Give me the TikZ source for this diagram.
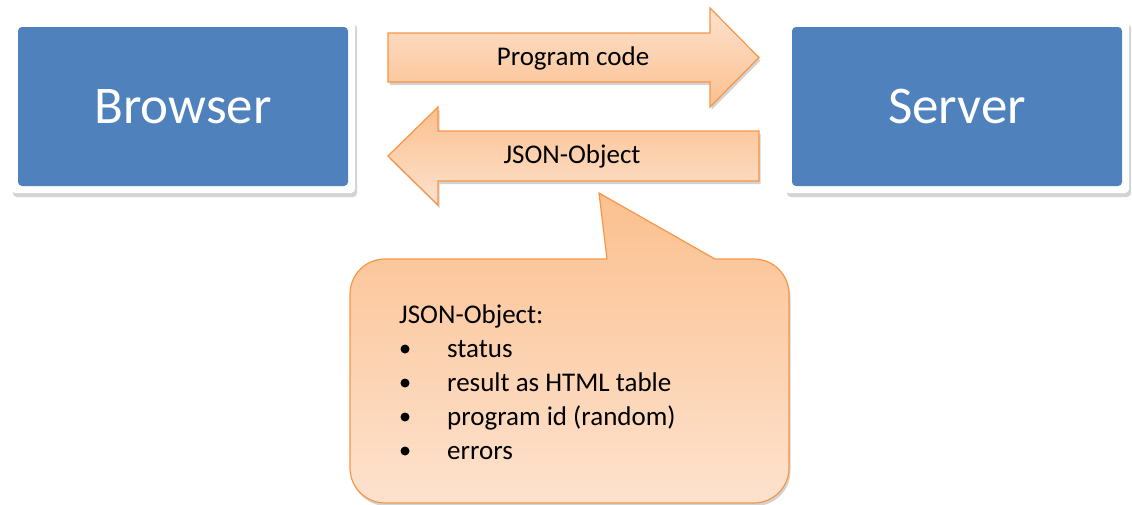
\documentclass[tikz,border=0pt]{standalone}
\usepackage{fontspec}
\setmainfont{Carlito}
\usetikzlibrary{shadows}

\definecolor{boxblue}{RGB}{79,129,189}
\definecolor{peach}{RGB}{247,150,70}
\definecolor{peachtop}{RGB}{251,192,143}
\definecolor{peachbot}{RGB}{253,226,206}

\tikzset{
  panel/.style={fill=white, rounded corners=4pt, inner sep=0pt,
    minimum width=344pt, minimum height=173pt,
    text=white, font=\fontsize{53}{56}\selectfont,
    drop shadow={shadow xshift=2pt, shadow yshift=-4pt, opacity=0.35},
    path picture={\fill[boxblue]
      ([shift={(7pt,7pt)}]path picture bounding box.south west) rectangle
      ([shift={(-7pt,-7pt)}]path picture bounding box.north east);}},
  flow/.style={draw=peach, line width=1.2pt, line join=miter,
    top color=peachtop, bottom color=peachbot,
    drop shadow={shadow xshift=1.5pt, shadow yshift=-3pt, opacity=0.35}},
  flowtext/.style={font=\fontsize{27}{30}\selectfont, inner sep=0pt},
  dot/.style={circle, fill=black, inner sep=0pt, minimum size=9pt}
}

\begin{document}
\begin{tikzpicture}[x=1pt, y=-1pt]
  \useasboundingbox (0,0) rectangle (1132,504);

  \node[panel] (browser) at (183,106.5) {Browser};
  \node[panel] (server) at (957,106.5) {Server};

  % request and answer
  \draw[flow, top color=peachbot, bottom color=peachtop]
    (388,33) -- (710,33) -- (710,8) -- (759,57.5) -- (710,107)
    -- (710,82) -- (388,82) -- cycle;
  \node[flowtext, anchor=base] (code) at (573,65) {Program code};

  \draw[flow] (759,131) -- (438,131) -- (438,107) -- (388,156) -- (438,205)
    -- (438,181) -- (759,181) -- cycle;
  \node[flowtext, anchor=base] (json) at (572,163) {JSON-Object};

  % callout
  \draw[flow] (599,193) -- (715,259) [rounded corners=35pt] -- (789,259)
    -- (789,503) -- (350,503) -- (350,259) [sharp corners] -- (607,259) -- cycle;

  \node[flowtext, anchor=base west] (head) at (399,323) {JSON-Object:};
  \foreach \txt [count=\i] in {status, result as HTML table,
      program id (random), errors} {
    \node[dot] (dot\i) at (405,315+34*\i) {};
    \node[flowtext, anchor=base west] (item\i) at (447,323+34*\i) {\txt};
  }
\end{tikzpicture}
\end{document}
